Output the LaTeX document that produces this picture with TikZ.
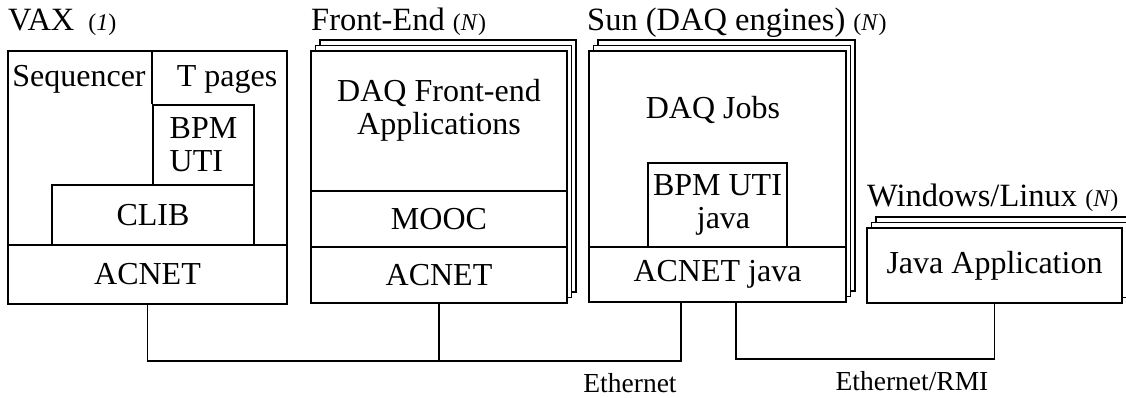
\documentclass[tikz,border=0pt]{standalone}
\usepackage{fontspec}
\setmainfont{Liberation Serif}
\usetikzlibrary{shadows}
\tikzset{
    hostbox/.style = {rectangle, line width=1.8pt, draw=black, fill=white, inner sep=0pt},
    stackbox/.style = {hostbox,
        copy shadow={shadow xshift=9pt, shadow yshift=11pt, draw=black, fill=white, line width=1.5pt},
        copy shadow={shadow xshift=4.5pt, shadow yshift=5.5pt, draw=black, fill=white, line width=1.5pt}},
    rowbox/.style = {rectangle, line width=1.8pt, draw=black, inner sep=0pt, align=center, font=\fontsize{32}{33}\selectfont},
    txt/.style = {inner sep=0pt, align=center, font=\fontsize{32}{33}\selectfont},
    hosttitle/.style = {anchor=base west, inner sep=0pt, font=\fontsize{32.5}{34}\selectfont},
    wire/.style = {-, line width=1.3pt, black},
    wirelbl/.style = {inner sep=0pt, font=\fontsize{27.5}{30}\selectfont},
}
\newcommand{\howmany}[1]{{\fontsize{24}{26}\selectfont(\textit{#1})}}

\begin{document}
\begin{tikzpicture}[x=1pt,y=-1pt]
\clip (0,0) rectangle (1126,398);
\useasboundingbox (0,0) rectangle (1126,398);

% VAX
\node[hostbox, minimum width=279pt, minimum height=253pt] at (147.5,177.5) (vax) {};
\node[rowbox, minimum width=279pt, minimum height=59pt] at (147.5,274.5) (vaxnet) {ACNET};
\node[rowbox, minimum width=202pt, minimum height=60pt] at (153,215) (clib) {CLIB};
\node[rowbox, minimum width=101pt, minimum height=80pt, align=left] at (203.5,145) (bpm) {BPM\\UTI};
\draw[line width=1.8pt] (bpm.north west) -- (bpm.north west |- vax.north);
\node[txt] at (79,79) (seq) {Sequencer};
\node[txt] at (227,79) (tpg) {T pages};
\node[hosttitle] at (8,31) (vaxlbl) {VAX\hspace{14pt}\howmany{1}};

% Front-End
\node[stackbox, minimum width=256pt, minimum height=252pt] at (439,177) (fe) {};
\node[txt] at (439,110) (feapp) {DAQ Front-end\\Applications};
\node[rowbox, minimum width=256pt, minimum height=56pt] at (439,219) (femooc) {MOOC};
\node[rowbox, minimum width=256pt, minimum height=56pt] at (439,275) (fenet) {ACNET};
\node[hosttitle] at (311,31) (felbl) {Front-End \howmany{N}};

% Sun
\node[stackbox, minimum width=257pt, minimum height=251pt] at (717.5,176.5) (sun) {};
\node[txt] at (713,110) (sunjobs) {DAQ Jobs};
\node[rowbox, minimum width=139pt, minimum height=84pt] at (717.5,205) (sunbpm) {BPM UTI\\\hspace*{12pt}java};
\node[rowbox, minimum width=257pt, minimum height=55pt] at (717.5,274.5) (sunnet) {ACNET java};
\node[hosttitle] at (587,31) (sunlbl) {Sun (DAQ engines) \howmany{N}};

% Windows/Linux
\node[stackbox, rowbox, fill=white, minimum width=255pt, minimum height=75pt] at (994.5,265.5) (win) {Java Application};
\node[hosttitle] at (867,206) (winlbl) {Windows/Linux \howmany{N}};

% networks
\coordinate (ethbus) at (0,361);
\coordinate (rmibus) at (0,359);
\draw[wire] (vaxnet.south) |- (ethbus -| sunnet.south west) -- ++(93,0) -- ([xshift=93pt]sunnet.south west);
\draw[wire] (fenet.south) -- (fenet.south |- ethbus);
\draw[wire] ([xshift=148pt]sunnet.south west) |- (rmibus -| win.south) -- (win.south);
\node[wirelbl] at (630,383) (ethlbl) {Ethernet};
\node[wirelbl] at (912,381) (rmilbl) {Ethernet/RMI};

\end{tikzpicture}
\end{document}
